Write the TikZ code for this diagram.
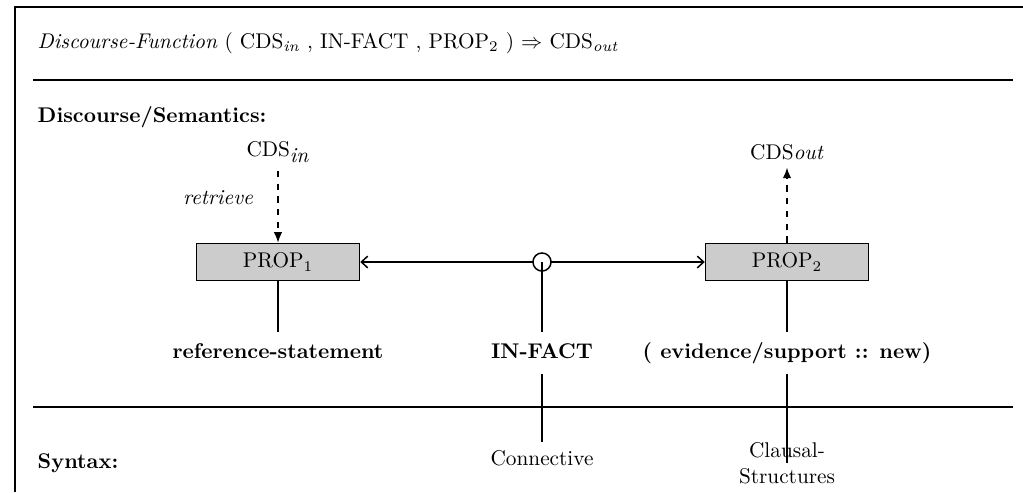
\documentclass[tikz,border=0pt]{standalone}
\usetikzlibrary{arrows.meta}
\tikzset{
  propbox/.style={draw,fill=black!20,minimum width=76.6pt,minimum height=17.4pt,inner sep=0pt},
  tag/.style={font=\bfseries,text height=7pt,text depth=2pt,inner ysep=5pt},
  syn/.style={text height=7pt,text depth=2pt,inner ysep=3.5pt},
  head/.style={anchor=west,inner xsep=0pt},
  barb/.tip={Straight Barb[length=3pt,width=5.5pt]},
}
\begin{document}
\begin{tikzpicture}[x=0.47pt,y=-0.47pt,>={Latex[length=5pt,width=4pt]},line width=0.7pt]
\useasboundingbox (0,0) rectangle (1023,492);
% frame and rules
\draw (15,492) -- (15,7) -- (1023,7);
\draw (33,80) -- (1013,80);
\draw (33,407) -- (1013,407);
% headings
\node[head] (func) at (37,43) {\textit{Discourse-Function} ( CDS\textsubscript{\textit{in}} , IN-FACT , PROP\textsubscript{2} ) $\Rightarrow$ CDS\textsubscript{\textit{out}}};
\node[head,font=\bfseries] (sem) at (37,117) {Discourse/Semantics:};
\node[head,font=\bfseries] (syntax) at (37,463) {Syntax:};
% semantics
\node[propbox] (prop1) at (278,262) {PROP$_1$};
\node[propbox] (prop2) at (787,262) {PROP$_2$};
\node (cdsin) at (278,152) {CDS$_{\textit{in}}$};
\node (cdsout) at (787,152) {CDS\textit{out}};
\node[font=\itshape] (retrieve) at (218,198) {retrieve};
\draw[dashed,->] (cdsin) -- (prop1);
\draw[dashed,->] (prop2) -- (cdsout);
\draw[barb-barb] (prop1) -- (prop2);
\node[circle,draw,fill=white,minimum size=8.5pt,inner sep=0pt] (fact) at (542,262) {};
% labels
\node[tag] (refst) at (278,353) {reference-statement};
\node[tag] (infact) at (542,353) {IN-FACT};
\node[tag] (evid) at (787,353) {( evidence/support :: new)};
\node[syn] (conn) at (542,460) {Connective};
\node[align=center,inner sep=0pt] (clausal) at (787,463) {Clausal-\\Structures};
\draw (prop1) -- (refst);
\draw (fact.center) -- (infact);
\draw (prop2) -- (evid);
\draw (infact) -- (conn);
\draw (evid) -- (clausal.center);
\end{tikzpicture}
\end{document}
